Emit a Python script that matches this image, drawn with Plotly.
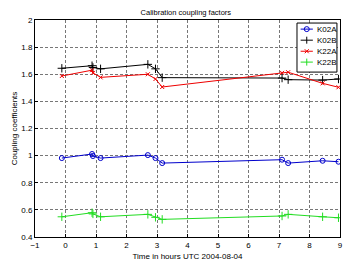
import plotly.graph_objects as go

t = [-0.12, 0.87, 0.9, 1.15, 2.7, 2.95, 3.17, 7.1, 7.3, 8.43, 8.95]
k02a = [0.982, 1.012, 0.997, 0.982, 1.004, 0.982, 0.945, 0.97, 0.945, 0.962, 0.955]
k02b = [1.644, 1.663, 1.65, 1.64, 1.673, 1.64, 1.575, 1.572, 1.56, 1.557, 1.565]
k22a = [1.587, 1.63, 1.61, 1.577, 1.60, 1.565, 1.506, 1.61, 1.615, 1.533, 1.504]
k22b = [0.549, 0.579, 0.57, 0.549, 0.567, 0.545, 0.53, 0.555, 0.567, 0.549, 0.542]

x_ticks = list(range(-1, 10))
y_ticks = [0.4, 0.6, 0.8, 1.0, 1.2, 1.4, 1.6, 1.8, 2.0]
y_labels = ["0.4", "0.6", "0.8", "1", "1.2", "1.4", "1.6", "1.8", "2"]

names = ["K02A", "K02B", "K22A", "K22B"]
values = [k02a, k02b, k22a, k22b]
colors = ["#0000cc", "#000000", "#ee0000", "#22dd22"]
symbols = ["circle-open", "cross-thin-open", "x-thin-open", "cross-thin-open"]
sizes = [5, 6, 4, 6]

FONT = "Liberation Sans Narrow, Arial Narrow, Liberation Sans, Arial"

fig = go.Figure()
for name, vals, col, sym, sz in zip(names, values, colors, symbols, sizes):
    fig.add_trace(go.Scatter(
        x=t, y=vals, name=name, mode="lines+markers",
        line=dict(color=col, width=1),
        marker=dict(symbol=sym, size=sz, color=col, line=dict(color=col, width=1)),
        showlegend=False,
    ))

axis_common = dict(
    showline=True, linecolor="black", linewidth=1, mirror=True,
    ticks="inside", ticklen=3, tickcolor="black",
    showgrid=True, gridcolor="#777777", griddash="3px,2px", gridwidth=1,
    zeroline=False, tickfont=dict(size=8, color="black", family=FONT),
)

# manual MATLAB-style legend box (paper coordinates)
shapes = []
annotations = []
lx0, lx1, ly0, ly1 = 0.859, 0.990, 0.760, 0.986
shapes.append(dict(type="rect", xref="paper", yref="paper", x0=lx0, x1=lx1,
                   y0=ly0, y1=ly1, fillcolor="white",
                   line=dict(color="black", width=1), layer="above"))
entry_y = [0.958, 0.907, 0.856, 0.806]
sx0, sx1 = lx0 + 0.012, lx0 + 0.052
smid = (sx0 + sx1) / 2
for name, col, sym, yy in zip(names, colors, symbols, entry_y):
    shapes.append(dict(type="line", xref="paper", yref="paper", x0=sx0, x1=sx1,
                       y0=yy, y1=yy, line=dict(color=col, width=1), layer="above"))
    if sym == "circle-open":
        shapes.append(dict(type="circle", xref="paper", yref="paper",
                           xsizemode="pixel", ysizemode="pixel",
                           xanchor=smid, yanchor=yy, x0=-2.5, x1=2.5, y0=-2.5, y1=2.5,
                           line=dict(color=col, width=1), layer="above"))
    elif sym == "cross-thin-open":
        shapes.append(dict(type="line", xref="paper", yref="paper",
                           xsizemode="pixel", ysizemode="pixel",
                           xanchor=smid, yanchor=yy, x0=0, x1=0, y0=-3.5, y1=3.5,
                           line=dict(color=col, width=1), layer="above"))
    else:
        for a, b in [(-2, 2), (2, -2)]:
            shapes.append(dict(type="line", xref="paper", yref="paper",
                               xsizemode="pixel", ysizemode="pixel",
                               xanchor=smid, yanchor=yy, x0=-2, x1=2, y0=a, y1=b,
                               line=dict(color=col, width=1), layer="above"))
    annotations.append(dict(text=name, xref="paper", yref="paper", x=sx1 + 0.008,
                            y=yy, xanchor="left", yanchor="middle", showarrow=False,
                            font=dict(size=8, family=FONT, color="black")))

# page body has an 8px default margin; size the figure to fit the window
fig.update_layout(
    width=346, height=265,
    margin=dict(l=27, r=14, t=12, b=36, autoexpand=False),
    paper_bgcolor="white", plot_bgcolor="white",
    font=dict(family=FONT, size=8, color="black"),
    title=dict(text="Calibration coupling factors", x=0.514, xanchor="center",
               y=0.995, yanchor="top", font=dict(size=7.5, family=FONT)),
    xaxis=dict(range=[-1, 9], tickvals=x_ticks,
               title=dict(text="Time in hours UTC 2004-08-04", standoff=4,
                          font=dict(size=8, family=FONT)),
               **axis_common),
    yaxis=dict(range=[0.4, 2.0], tickvals=y_ticks, ticktext=y_labels,
               title=dict(text="Coupling coefficients", standoff=2,
                          font=dict(size=8, family=FONT)),
               **axis_common),
    shapes=shapes,
    annotations=annotations,
    showlegend=False,
)

fig.write_html("out.html")
